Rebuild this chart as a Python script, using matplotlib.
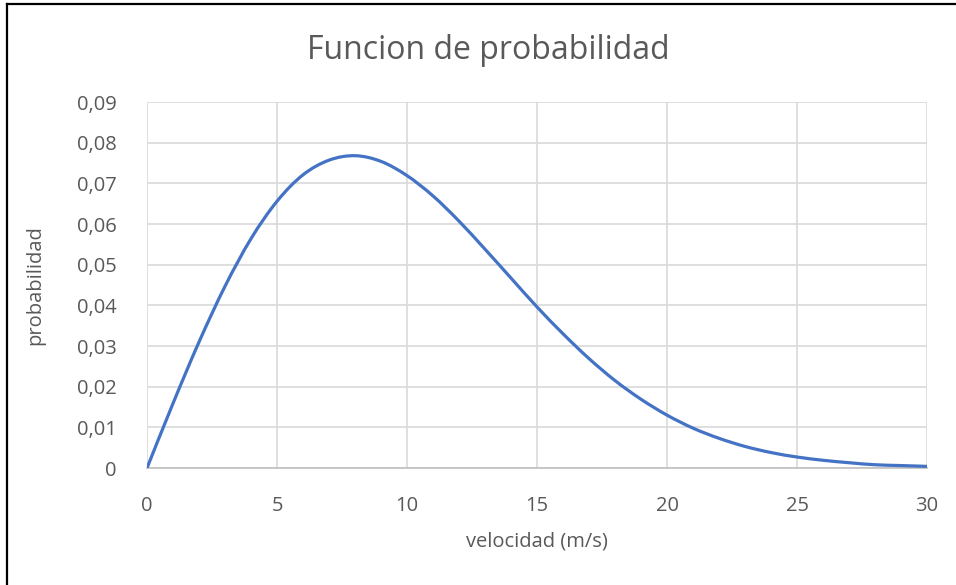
import matplotlib
matplotlib.use("Agg")
import matplotlib.pyplot as plt
import numpy as np
from matplotlib.path import Path
from matplotlib.patches import PathPatch
from matplotlib.lines import Line2D
from matplotlib.ticker import FuncFormatter

# velocity (m/s) and probability density values
velocidad = [0, 1, 2, 3, 4, 5, 6, 7, 8, 9, 10, 11, 12, 13, 14, 15, 16, 17, 18, 19, 20,
             21, 22, 23, 24, 25, 26, 27, 28, 29, 30]
probabilidad = [0.0, 0.0159, 0.0310, 0.0447, 0.0564, 0.0656, 0.0721, 0.0757, 0.0768,
                0.0754, 0.0719, 0.0669, 0.0607, 0.0538, 0.0467, 0.0396, 0.0330, 0.0269,
                0.0215, 0.0169, 0.0130, 0.0098, 0.0073, 0.0053, 0.0038, 0.0027, 0.0019,
                0.0013, 0.0008, 0.0006, 0.0004]

x_ticks = [0, 5, 10, 15, 20, 25, 30]
y_ticks = [0, 0.01, 0.02, 0.03, 0.04, 0.05, 0.06, 0.07, 0.08, 0.09]

TEXT = "#595959"
GRID = "#d9d9d9"
LINE = "#4472C4"
FONT = ["Open Sans", "DejaVu Sans"]


def smooth_path(xs, ys):
    """Catmull-Rom style smoothed line as a cubic Bezier path."""
    pts = np.column_stack([xs, ys]).astype(float)
    n = len(pts)
    verts = [pts[0]]
    codes = [Path.MOVETO]
    for i in range(n - 1):
        p0 = pts[i - 1] if i > 0 else pts[i]
        p1 = pts[i]
        p2 = pts[i + 1]
        p3 = pts[i + 2] if i + 2 < n else pts[i + 1]
        c1 = p1 + (p2 - p0) / 6.0
        c2 = p2 - (p3 - p1) / 6.0
        verts += [c1, c2, p2]
        codes += [Path.CURVE4] * 3
    return Path(verts, codes)


fig = plt.figure(figsize=(9.56, 5.85), dpi=100)
ax = fig.add_axes([0.1538, 0.2, 0.8159, 0.6256])

ax.add_patch(PathPatch(smooth_path(velocidad, probabilidad), facecolor="none",
                       edgecolor=LINE, linewidth=2.3, capstyle="round",
                       joinstyle="round", zorder=3))

ax.set_xlim(0, 30)
ax.set_ylim(0, 0.09)
ax.set_xticks(x_ticks)
ax.set_yticks(y_ticks)
ax.yaxis.set_major_formatter(FuncFormatter(
    lambda v, _: "0" if abs(v) < 1e-9 else f"{v:.2f}".replace(".", ",")))

ax.grid(True, color=GRID, linewidth=1.2)
ax.set_axisbelow(True)
for side in ["top", "right", "left"]:
    ax.spines[side].set_visible(False)
ax.spines["bottom"].set_color("#bfbfbf")
ax.spines["bottom"].set_linewidth(1.2)
ax.tick_params(length=0, labelsize=14.5, labelcolor=TEXT)
ax.tick_params(axis="y", pad=22)
ax.tick_params(axis="x", pad=20)
for lbl in ax.get_xticklabels() + ax.get_yticklabels():
    lbl.set_family(FONT)

ax.set_xlabel("velocidad (m/s)", fontsize=14.5, color=TEXT, family=FONT)
ax.set_ylabel("probabilidad", fontsize=14.5, color=TEXT, family=FONT)
ax.xaxis.set_label_coords(0.5, -0.1995)
ax.yaxis.set_label_coords(-0.1436, 0.5)
ax.xaxis.label.set_va("center")
ax.yaxis.label.set_va("center")
fig.text(0.511, 0.9145, "Funcion de probabilidad", ha="center", va="center",
         fontsize=23, color=TEXT, family=FONT)

# frame edges along the top and left of the chart area
fig.add_artist(Line2D([0.0073, 0.0073], [0, 0.993], transform=fig.transFigure,
                      color="black", linewidth=1.6))
fig.add_artist(Line2D([0.0073, 1.0], [0.993, 0.993], transform=fig.transFigure,
                      color="black", linewidth=1.6))

fig.savefig("out.png", dpi=100, facecolor="white")
